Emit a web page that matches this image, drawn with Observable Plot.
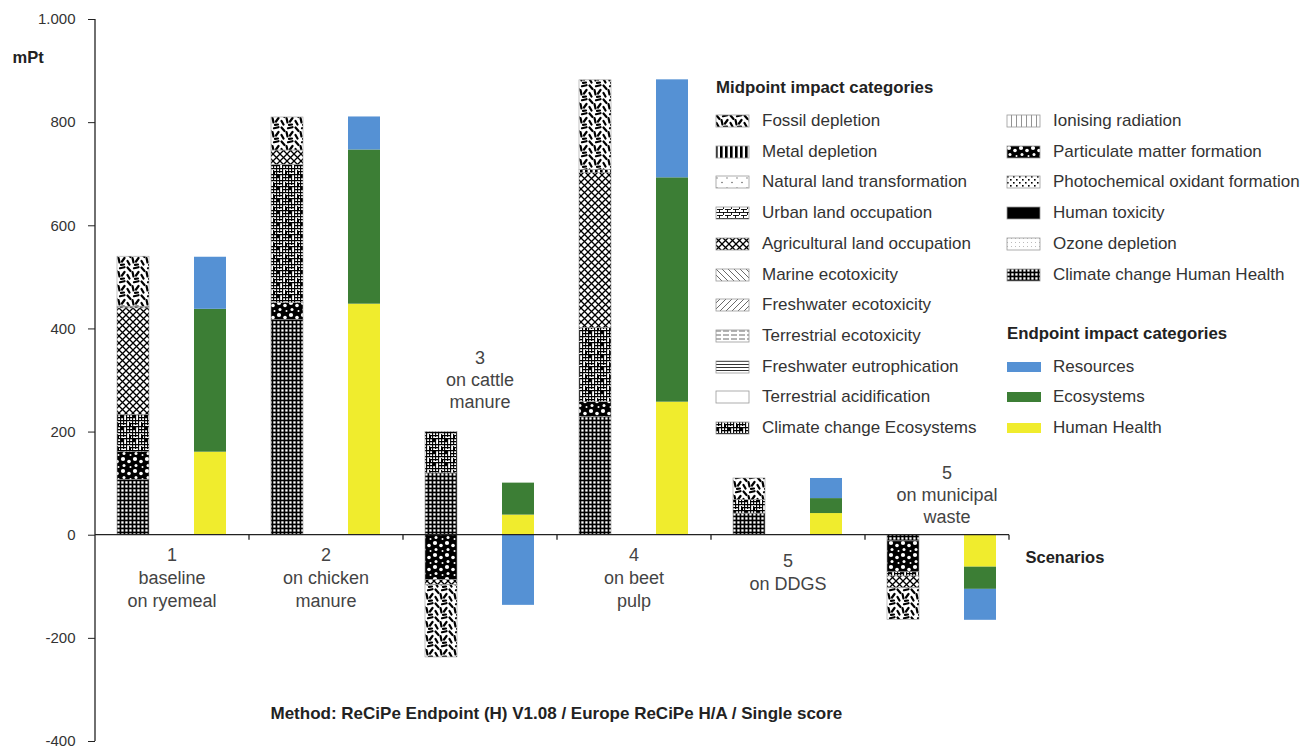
<!DOCTYPE html>
<html>
<head>
<meta charset="utf-8">
<script src="https://cdn.jsdelivr.net/npm/d3@7"></script>
<script src="https://cdn.jsdelivr.net/npm/@observablehq/plot@0.6"></script>
<style>
  body { margin: 0; background: #fff; font-family: "Liberation Sans", Arial, sans-serif; }
  #wrap { position: relative; width: 1305px; height: 750px; overflow: hidden; }
  #legend { position: absolute; left: 0; top: 0; width: 1305px; height: 750px; pointer-events: none; }
  .row { position: absolute; display: flex; align-items: center; height: 20px; font-size: 17px; color: #333; white-space: nowrap; }
  .row svg { flex: none; }
  .head { position: absolute; font-size: 16.8px; font-weight: bold; color: #222; white-space: nowrap; height: 20px; line-height: 20px; }
</style>
</head>
<body>
<svg width="0" height="0" style="position:absolute">
  <defs>
    <pattern id="p-fossil" patternUnits="userSpaceOnUse" width="14" height="14">
      <rect width="14" height="14" fill="#fff"/>
      <g stroke="#000" stroke-width="2.2" stroke-linecap="round">
        <line x1="1.5" y1="1.5" x2="4.5" y2="5"/>
        <line x1="8" y1="2.2" x2="12.5" y2="1.2"/>
        <line x1="6.5" y1="6" x2="7.5" y2="10.5"/>
        <line x1="12.5" y1="6" x2="10" y2="9.5"/>
        <line x1="1.5" y1="9" x2="3.5" y2="12.5"/>
        <line x1="9" y1="12.8" x2="12" y2="12.5"/>
      </g>
    </pattern>
    <pattern id="p-metal" patternUnits="userSpaceOnUse" width="5" height="5">
      <rect width="5" height="5" fill="#fff"/><rect width="2.6" height="5" fill="#000"/>
    </pattern>
    <pattern id="p-natural" patternUnits="userSpaceOnUse" width="10" height="10">
      <rect width="10" height="10" fill="#fff"/>
      <circle cx="2" cy="3" r="0.7" fill="#666"/><circle cx="7" cy="7.5" r="0.8" fill="#666"/>
    </pattern>
    <pattern id="p-urban" patternUnits="userSpaceOnUse" width="8" height="6">
      <rect width="8" height="6" fill="#fff"/>
      <path d="M0,0.5H8M0.5,0V3M4.5,3V6M2,3.5H8" stroke="#000" stroke-width="0.9" fill="none"/>
    </pattern>
    <pattern id="p-agri" patternUnits="userSpaceOnUse" width="7" height="7">
      <rect width="7" height="7" fill="#fff"/>
      <path d="M0,0L7,7M7,0L0,7" stroke="#000" stroke-width="1.3" fill="none"/>
    </pattern>
    <pattern id="p-marine" patternUnits="userSpaceOnUse" width="6" height="6">
      <rect width="6" height="6" fill="#fff"/>
      <path d="M0,0L6,6M-1,5L1,7M5,-1L7,1" stroke="#444" stroke-width="0.8" fill="none"/>
    </pattern>
    <pattern id="p-fwecotox" patternUnits="userSpaceOnUse" width="6" height="6">
      <rect width="6" height="6" fill="#fff"/>
      <path d="M0,6L6,0M-1,1L1,-1M5,7L7,5" stroke="#444" stroke-width="0.8" fill="none"/>
    </pattern>
    <pattern id="p-terrecotox" patternUnits="userSpaceOnUse" width="8" height="4">
      <rect width="8" height="4" fill="#fff"/>
      <path d="M0,2H6" stroke="#444" stroke-width="0.8"/>
    </pattern>
    <pattern id="p-fweutroph" patternUnits="userSpaceOnUse" width="4" height="3">
      <rect width="4" height="3" fill="#fff"/>
      <path d="M0,1.5H4" stroke="#333" stroke-width="1"/>
    </pattern>
    <pattern id="p-terracid" patternUnits="userSpaceOnUse" width="4" height="4">
      <rect width="4" height="4" fill="#fff"/>
    </pattern>
    <pattern id="p-cceco" patternUnits="userSpaceOnUse" width="12" height="12">
      <rect width="12" height="12" fill="#fff"/>
      <path d="M0,0.6H12M0,3.6H7M9,3.6H12M0,6.6H12M0,9.6H4M6,9.6H12M0.6,0V12M3.6,0V5M3.6,7V12M6.6,0V12M9.6,2V12"
            stroke="#000" stroke-width="1.1" fill="none"/>
      <rect x="9" y="4" width="2" height="2" fill="#000"/>
      <rect x="1" y="7" width="2" height="2" fill="#000"/>
    </pattern>
    <pattern id="p-ionising" patternUnits="userSpaceOnUse" width="10" height="10">
      <rect width="10" height="10" fill="#fff"/>
      <path d="M0.5,0V10M5.5,0V10" stroke="#777" stroke-width="0.8"/>
    </pattern>
    <pattern id="p-pm" patternUnits="userSpaceOnUse" width="12" height="12">
      <rect width="12" height="12" fill="#000"/>
      <circle cx="3" cy="3" r="2.1" fill="#fff"/>
      <circle cx="9" cy="5.5" r="1.8" fill="#fff"/>
      <circle cx="4" cy="9.5" r="1.5" fill="#fff"/>
      <circle cx="10.5" cy="11" r="1" fill="#fff"/>
    </pattern>
    <pattern id="p-photo" patternUnits="userSpaceOnUse" width="6" height="6">
      <rect width="6" height="6" fill="#fff"/>
      <rect x="1" y="1" width="1.6" height="1.6" fill="#000"/>
      <rect x="4" y="4" width="1.6" height="1.6" fill="#000"/>
    </pattern>
    <pattern id="p-humantox" patternUnits="userSpaceOnUse" width="4" height="4">
      <rect width="4" height="4" fill="#000"/>
    </pattern>
    <pattern id="p-ozone" patternUnits="userSpaceOnUse" width="4" height="4">
      <rect width="4" height="4" fill="#fff"/><rect x="1" y="1" width="1" height="1" fill="#bbb"/>
    </pattern>
    <pattern id="p-cchh" patternUnits="userSpaceOnUse" width="4" height="4">
      <rect width="4" height="4" fill="#000"/><rect x="1.3" y="1.3" width="2.3" height="2.3" fill="#fff"/>
    </pattern>
  </defs>
</svg>
<div id="wrap"><div id="legend"></div></div>
<script>
// ---------------- data ----------------
const scenarios = ["1", "2", "3", "4", "5", "6"];
const scenarioLabels = [
  "1\nbaseline\non ryemeal",
  "2\non chicken\nmanure",
  "3\non cattle\nmanure",
  "4\non beet\npulp",
  "5\non DDGS",
  "5\non municipal\nwaste"
];

// midpoint categories in stacking order (bottom -> top)
const midCategories = [
  "Climate change Human Health", "Ozone depletion", "Human toxicity",
  "Photochemical oxidant formation", "Particulate matter formation", "Ionising radiation",
  "Climate change Ecosystems", "Terrestrial acidification", "Freshwater eutrophication",
  "Terrestrial ecotoxicity", "Freshwater ecotoxicity", "Marine ecotoxicity",
  "Agricultural land occupation", "Urban land occupation", "Natural land transformation",
  "Metal depletion", "Fossil depletion"
];
// values per scenario (mPt)
const ccHumanHealth   = [107, 417, 120, 229, 42, -12];
const ozoneDepletion  = [0, 0, 0, 0, 0, 0];
const humanToxicity   = [0, 0, 0, 0, 0, 0];
const photochemical   = [0, 0, 0, 0, 0, 0];
const particulate     = [54, 33, -87, 29, 0, -60];
const ionising        = [0, 0, 0, 0, 0, 0];
const ccEcosystems    = [72, 268, 80, 144, 26, -8];
const terrAcid        = [0, 0, 0, 0, 0, 0];
const fwEutroph       = [0, 0, 0, 0, 0, 0];
const terrEcotox      = [0, 0, 0, 0, 0, 0];
const fwEcotox        = [0, 0, 0, 0, 0, 0];
const marineEcotox    = [0, 0, 0, 0, 0, 0];
const agriLand        = [207, 28, -10, 300, 0, -23];
const urbanLand       = [0, 0, 0, 0, 0, 0];
const naturalLand     = [0, 0, 0, 0, 0, 0];
const metalDepletion  = [3, 0, 0, 6, 0, 0];
const fossilDepletion = [97, 64, -140, 174, 42, -61];

// endpoint categories in stacking order (bottom -> top)
const endCategories = ["Human Health", "Ecosystems", "Resources"];
const humanHealth = [161, 448, 39, 258, 42, -62];
const ecosystems  = [277, 299, 62, 435, 29, -43];
const resources   = [101, 64, -136, 190, 39, -60];

const yTicks = [-400, -200, 0, 200, 400, 600, 800, 1000];

// ---------------- styles ----------------
const midSeries = [ccHumanHealth, ozoneDepletion, humanToxicity, photochemical, particulate, ionising,
  ccEcosystems, terrAcid, fwEutroph, terrEcotox, fwEcotox, marineEcotox, agriLand, urbanLand,
  naturalLand, metalDepletion, fossilDepletion];
const midFills = ["p-cchh", "p-ozone", "p-humantox", "p-photo", "p-pm", "p-ionising", "p-cceco",
  "p-terracid", "p-fweutroph", "p-terrecotox", "p-fwecotox", "p-marine", "p-agri", "p-urban",
  "p-natural", "p-metal", "p-fossil"].map(id => `url(#${id})`);
const endSeries = [humanHealth, ecosystems, resources];
const endFills = ["#f0ec2d", "#3c7e35", "#5591d4"];

const key = (s, t) => s + "|" + t;
const midRows = midCategories.flatMap((c, j) =>
  scenarios.map((s, i) => ({key: key(s, "mid"), cat: c, value: midSeries[j][i]}))).filter(d => d.value !== 0);
const endRows = endCategories.flatMap((c, j) =>
  scenarios.map((s, i) => ({key: key(s, "end"), cat: c, value: endSeries[j][i]}))).filter(d => d.value !== 0);
const labelRows = scenarios.map((s, i) => ({key: key(s, "end"), label: scenarioLabels[i], idx: i}));

const fmt = d => (d < 0 ? "-" : "") + d3.format(",")(Math.abs(d)).replace(/,/g, ".");
const font = "'Liberation Sans', Arial, sans-serif";
const halfStep = -38.5; // text centred between the two bars of a scenario

const axesLines = (index, scales, values, dims) => {
  const {width, height, marginLeft, marginRight, marginTop, marginBottom} = dims;
  const y0 = scales.y(0);
  const g = d3.create("svg:g").attr("stroke", "#222").attr("stroke-width", 1.3).attr("fill", "none");
  g.append("line").attr("x1", marginLeft).attr("x2", marginLeft).attr("y1", marginTop).attr("y2", height - marginBottom);
  const n = scenarios.length, w = (width - marginLeft - marginRight) / n;
  const xEnd = width - marginRight - 10;
  g.append("line").attr("x1", marginLeft).attr("x2", xEnd).attr("y1", y0).attr("y2", y0);
  for (let k = 1; k < n; k++) {
    const x = marginLeft + k * w;
    g.append("line").attr("x1", x).attr("x2", x).attr("y1", y0).attr("y2", y0 + 5);
  }
  g.append("line").attr("x1", xEnd).attr("x2", xEnd).attr("y1", y0).attr("y2", y0 + 5);
  return g.node();
};

const chart = Plot.plot({
  width: 1305,
  height: 750,
  marginLeft: 95,
  marginRight: 286,
  marginTop: 19,
  marginBottom: 9,
  style: {fontFamily: font, background: "transparent", color: "#333", overflow: "visible"},
  x: {domain: scenarios.flatMap(s => [key(s, "mid"), key(s, "end")]), paddingInner: 0.584, paddingOuter: 0.286, axis: null},
  y: {domain: [-400, 1000], axis: null},
  color: {domain: [...midCategories, ...endCategories], range: [...midFills, ...endFills]},
  marks: [
    Plot.axisY({ticks: yTicks, tickFormat: fmt, tickSize: 7, tickPadding: 13, fontSize: 15, label: null, stroke: "#222", fill: "#333"}),
    Plot.barY(midRows, {x: "key", y: "value", fill: "cat", stroke: "#999", strokeWidth: 0.6}),
    Plot.barY(endRows, {x: "key", y: "value", fill: "cat"}),
    axesLines,
    Plot.text(labelRows.filter(d => [0, 1, 3].includes(d.idx)), {x: "key", y: 0, text: "label", dx: halfStep, dy: 10,
      lineAnchor: "top", lineHeight: 1.26, fontSize: 18, fill: "#444"}),
    Plot.text(labelRows.filter(d => d.idx === 4), {x: "key", y: 0, text: "label", dx: halfStep, dy: 16,
      lineAnchor: "top", lineHeight: 1.26, fontSize: 18, fill: "#444"}),
    Plot.text(labelRows.filter(d => d.idx === 2), {x: "key", y: 0, text: "label", dx: halfStep, dy: -187,
      lineAnchor: "top", lineHeight: 1.22, fontSize: 18, fill: "#444"}),
    Plot.text(labelRows.filter(d => d.idx === 5), {x: "key", y: 0, text: "label", dx: halfStep + 5, dy: -72,
      lineAnchor: "top", lineHeight: 1.22, fontSize: 18, fill: "#444"}),
    Plot.text(["Scenarios"], {frameAnchor: "right", y: 0, dx: 6, dy: 23, textAnchor: "start", fontWeight: "bold", fontSize: 16.5, fill: "#222"}),
    Plot.text(["mPt"], {frameAnchor: "top-left", dx: -83, dy: 32, textAnchor: "start", fontWeight: "bold", fontSize: 16.5, fill: "#222"}),
    Plot.text(["Method: ReCiPe Endpoint (H) V1.08 / Europe ReCiPe H/A / Single score"],
      {frameAnchor: "bottom-left", dx: 175, dy: -23, textAnchor: "start", fontWeight: "bold", fontSize: 17, fill: "#222"})
  ]
});
document.getElementById("wrap").prepend(chart);

// ---------------- legend ----------------
const legend = document.getElementById("legend");
const fillOf = new Map([...midCategories.map((c, j) => [c, midFills[j]]), ...endCategories.map((c, j) => [c, endFills[j]])]);
const col1 = ["Fossil depletion", "Metal depletion", "Natural land transformation", "Urban land occupation",
  "Agricultural land occupation", "Marine ecotoxicity", "Freshwater ecotoxicity", "Terrestrial ecotoxicity",
  "Freshwater eutrophication", "Terrestrial acidification", "Climate change Ecosystems"];
const col2 = ["Ionising radiation", "Particulate matter formation", "Photochemical oxidant formation",
  "Human toxicity", "Ozone depletion", "Climate change Human Health", null, null,
  "Resources", "Ecosystems", "Human Health"];
const rowY = r => 121 + 30.7 * r;
function head(text, x, y) {
  const d = document.createElement("div");
  d.className = "head"; d.textContent = text;
  d.style.left = x + "px"; d.style.top = (y - 10) + "px";
  legend.appendChild(d);
}
function item(name, x, y) {
  const d = document.createElement("div");
  d.className = "row";
  d.style.left = x + "px"; d.style.top = (y - 10) + "px";
  const isEnd = endCategories.includes(name);
  d.innerHTML = `<svg width="47" height="14"><rect x="1" y="${isEnd ? 2 : 1}" width="${isEnd ? 34 : 33}" height="${isEnd ? 10 : 12}" fill="${fillOf.get(name)}" ${isEnd ? "" : 'stroke="#999" stroke-width="0.8"'}/></svg><span>${name}</span>`;
  legend.appendChild(d);
}
head("Midpoint impact categories", 716, 88);
col1.forEach((c, r) => item(c, 715, rowY(r)));
col2.forEach((c, r) => { if (c) item(c, 1006, rowY(r)); });
head("Endpoint impact categories", 1007, 334);
</script>
</body>
</html>
